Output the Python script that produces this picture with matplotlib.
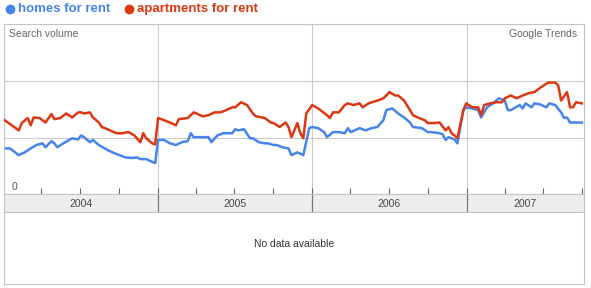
import numpy as np
import pandas as pd
import matplotlib
matplotlib.use("Agg")
import matplotlib.pyplot as plt
import matplotlib.dates as mdates
from matplotlib.lines import Line2D

plt.rcParams['font.family'] = ['Liberation Sans', 'DejaVu Sans']

# weeks since 2004-01-04 and relative search volume (gridlines at 1 and 2)
homes_weeks = [0, 2, 5, 7, 9, 11, 13, 14, 16, 17, 18, 20, 22, 23, 25, 26, 27, 29, 30, 32,
               35, 37, 39, 41, 43, 45, 46, 48, 50, 51,
               52, 54, 56, 58, 60, 62, 63, 64, 67, 69, 70, 72, 74, 77, 78, 79, 81, 83, 84, 86,
               88, 89, 91, 92, 94, 96, 97, 99, 101, 103,
               104, 106, 108, 109, 111, 113, 115, 116, 117, 120, 122, 124, 126, 128, 129, 131,
               133, 135, 137, 138, 141, 143, 144, 147, 148, 149, 150, 152, 153, 155,
               156, 158, 160, 161, 163, 165, 167, 169, 170, 171, 174, 175, 176, 178, 179, 181,
               183, 184, 186, 188, 189, 190, 191, 193, 195]
homes = [0.81, 0.81, 0.69, 0.74, 0.81, 0.87, 0.90, 0.83, 0.94, 0.90, 0.83, 0.90, 0.96, 0.99,
         0.97, 1.04, 1.01, 0.92, 0.96, 0.87, 0.78, 0.73, 0.69, 0.65, 0.64, 0.65, 0.62, 0.62,
         0.57, 0.55,
         0.96, 0.96, 0.90, 0.87, 0.92, 0.94, 1.08, 1.01, 1.01, 1.01, 0.92, 1.04, 1.08, 1.08,
         1.15, 1.13, 1.15, 0.99, 0.99, 0.92, 0.90, 0.90, 0.87, 0.87, 0.83, 0.81, 0.69, 0.74,
         0.69, 1.17,
         1.19, 1.17, 1.10, 1.01, 1.10, 1.10, 1.08, 1.17, 1.10, 1.17, 1.13, 1.17, 1.19, 1.31,
         1.49, 1.52, 1.43, 1.36, 1.27, 1.19, 1.17, 1.10, 1.10, 1.08, 1.06, 0.96, 1.01, 0.97,
         0.90, 1.49,
         1.54, 1.52, 1.49, 1.36, 1.54, 1.61, 1.70, 1.66, 1.49, 1.49, 1.58, 1.52, 1.61, 1.54,
         1.61, 1.59, 1.54, 1.61, 1.58, 1.45, 1.35, 1.36, 1.27, 1.27, 1.27]

apts_weeks = [0, 5, 6, 8, 9, 10, 12, 14, 16, 17, 19, 21, 23, 25, 26, 27, 29, 30, 32, 33,
              35, 37, 38, 40, 42, 44, 46, 47, 48, 50, 51,
              52, 56, 58, 59, 62, 64, 65, 67, 69, 71, 73, 75, 77, 78, 80, 82, 84, 85, 88,
              90, 91, 93, 95, 96, 97, 99, 100, 101, 102,
              104, 106, 109, 110, 111, 113, 115, 116, 118, 120, 121, 123, 126, 128, 129, 130,
              132, 133, 135, 137, 138, 140, 142, 143, 145, 147, 149, 150, 151, 152, 153, 155,
              156, 158, 160, 161, 162, 164, 166, 168, 169, 171, 173, 175, 177, 179, 181, 183,
              184, 186, 187, 188, 190, 191, 192, 193, 195]
apts = [1.32, 1.13, 1.26, 1.35, 1.22, 1.36, 1.35, 1.27, 1.42, 1.33, 1.35, 1.43, 1.36, 1.45,
        1.45, 1.43, 1.45, 1.36, 1.27, 1.19, 1.15, 1.10, 1.08, 1.08, 1.10, 1.04, 0.92, 1.08,
        0.99, 0.90, 0.88,
        1.35, 1.27, 1.22, 1.33, 1.35, 1.45, 1.43, 1.38, 1.40, 1.45, 1.45, 1.49, 1.54, 1.54,
        1.63, 1.58, 1.43, 1.38, 1.35, 1.27, 1.26, 1.19, 1.27, 1.19, 1.01, 1.26, 1.08, 0.99,
        1.43,
        1.58, 1.52, 1.40, 1.35, 1.45, 1.45, 1.58, 1.61, 1.58, 1.61, 1.54, 1.61, 1.66, 1.70,
        1.75, 1.81, 1.75, 1.75, 1.66, 1.49, 1.40, 1.35, 1.31, 1.26, 1.26, 1.27, 1.13, 1.19,
        1.08, 1.04, 0.99, 1.49,
        1.61, 1.54, 1.54, 1.40, 1.58, 1.61, 1.63, 1.63, 1.70, 1.75, 1.70, 1.75, 1.79, 1.81,
        1.89, 1.96, 1.98, 1.98, 1.93, 1.66, 1.81, 1.54, 1.54, 1.63, 1.61]

years = [2004, 2005, 2006, 2007]
series_names = ["homes for rent", "apartments for rent"]

start = pd.Timestamp("2004-01-04")
end = pd.Timestamp("2007-10-05")
homes_dates = start + pd.to_timedelta(np.array(homes_weeks) * 7, unit="D")
apts_dates = start + pd.to_timedelta(np.array(apts_weeks) * 7, unit="D")

blue = "#4684ee"
red = "#dc3912"
border = "#c4c4c4"
grid = "#cccccc"

W, H = 591, 288
fig = plt.figure(figsize=(W / 100, H / 100), dpi=100)


def rect(x0, y0, x1, y1):
    # pixel box (top-left origin) -> figure fraction
    return [x0 / W, 1 - y1 / H, (x1 - x0) / W, (y1 - y0) / H]


ax = fig.add_axes(rect(4, 24, 584, 194))
band = fig.add_axes(rect(4, 194, 584, 212), sharex=ax)
low = fig.add_axes(rect(4, 212, 584, 284))

# main chart
for y in [1, 2]:
    ax.axhline(y, color=grid, lw=0.8, zorder=0)
for yr in years[1:]:
    ax.axvline(pd.Timestamp(f"{yr}-01-01"), color=grid, lw=0.8, zorder=0)
ax.plot(apts_dates, apts, color=red, lw=1.8, zorder=3)
ax.plot(homes_dates, homes, color=blue, lw=1.8, zorder=2)
ax.set_xlim(start, end)
ax.set_ylim(0, 3.02)
ax.set_yticks([])
ax.xaxis.set_major_locator(mdates.MonthLocator(bymonth=[1, 4, 7, 10]))
ax.tick_params(axis="x", direction="in", length=4, color="#666666", width=0.8,
               labelbottom=False)
for s in ax.spines.values():
    s.set_color(border)
    s.set_linewidth(0.8)
ax.text(0.009, 0.94, "Search volume", transform=ax.transAxes, ha="left", va="center",
        fontsize=7.5, color="#666666")
ax.text(0.988, 0.94, "Google Trends", transform=ax.transAxes, ha="right", va="center",
        fontsize=7.5, color="#666666")
ax.text(0.013, 0.04, "0", transform=ax.transAxes, ha="left", va="center",
        fontsize=7.5, color="#555555")

# year band
band.set_facecolor("#eeeeee")
band.set_yticks([])
band.tick_params(axis="x", length=0, labelbottom=False)
for s in band.spines.values():
    s.set_color(border)
    s.set_linewidth(0.8)
for yr in years[1:]:
    band.axvline(pd.Timestamp(f"{yr}-01-01"), color="#777777", lw=0.9)
for yr in years:
    a = max(pd.Timestamp(f"{yr}-01-01"), start)
    b = min(pd.Timestamp(f"{yr + 1}-01-01"), end)
    band.text(a + (b - a) / 2, 0.45, str(yr), ha="center", va="center",
              fontsize=7.5, color="#444444", transform=band.get_xaxis_transform())

# lower empty panel
low.set_xticks([])
low.set_yticks([])
for s in low.spines.values():
    s.set_color(border)
    s.set_linewidth(0.8)
low.text(0.5, 0.55, "No data available", ha="center", va="center",
         fontsize=7.5, color="#333333", transform=low.transAxes)

# legend at top
for px, col in [(10, blue), (128.5, red)]:
    fig.add_artist(Line2D([px / W], [1 - 9 / H], marker="o", ms=6, color=col,
                          transform=fig.transFigure))
fig.text(18 / W, 1 - 9 / H, series_names[0], color=blue, fontsize=9.5,
         fontweight="bold", ha="left", va="center")
fig.text(137 / W, 1 - 9 / H, series_names[1], color=red, fontsize=9.5,
         fontweight="bold", ha="left", va="center")

fig.savefig("out.png", dpi=100)
